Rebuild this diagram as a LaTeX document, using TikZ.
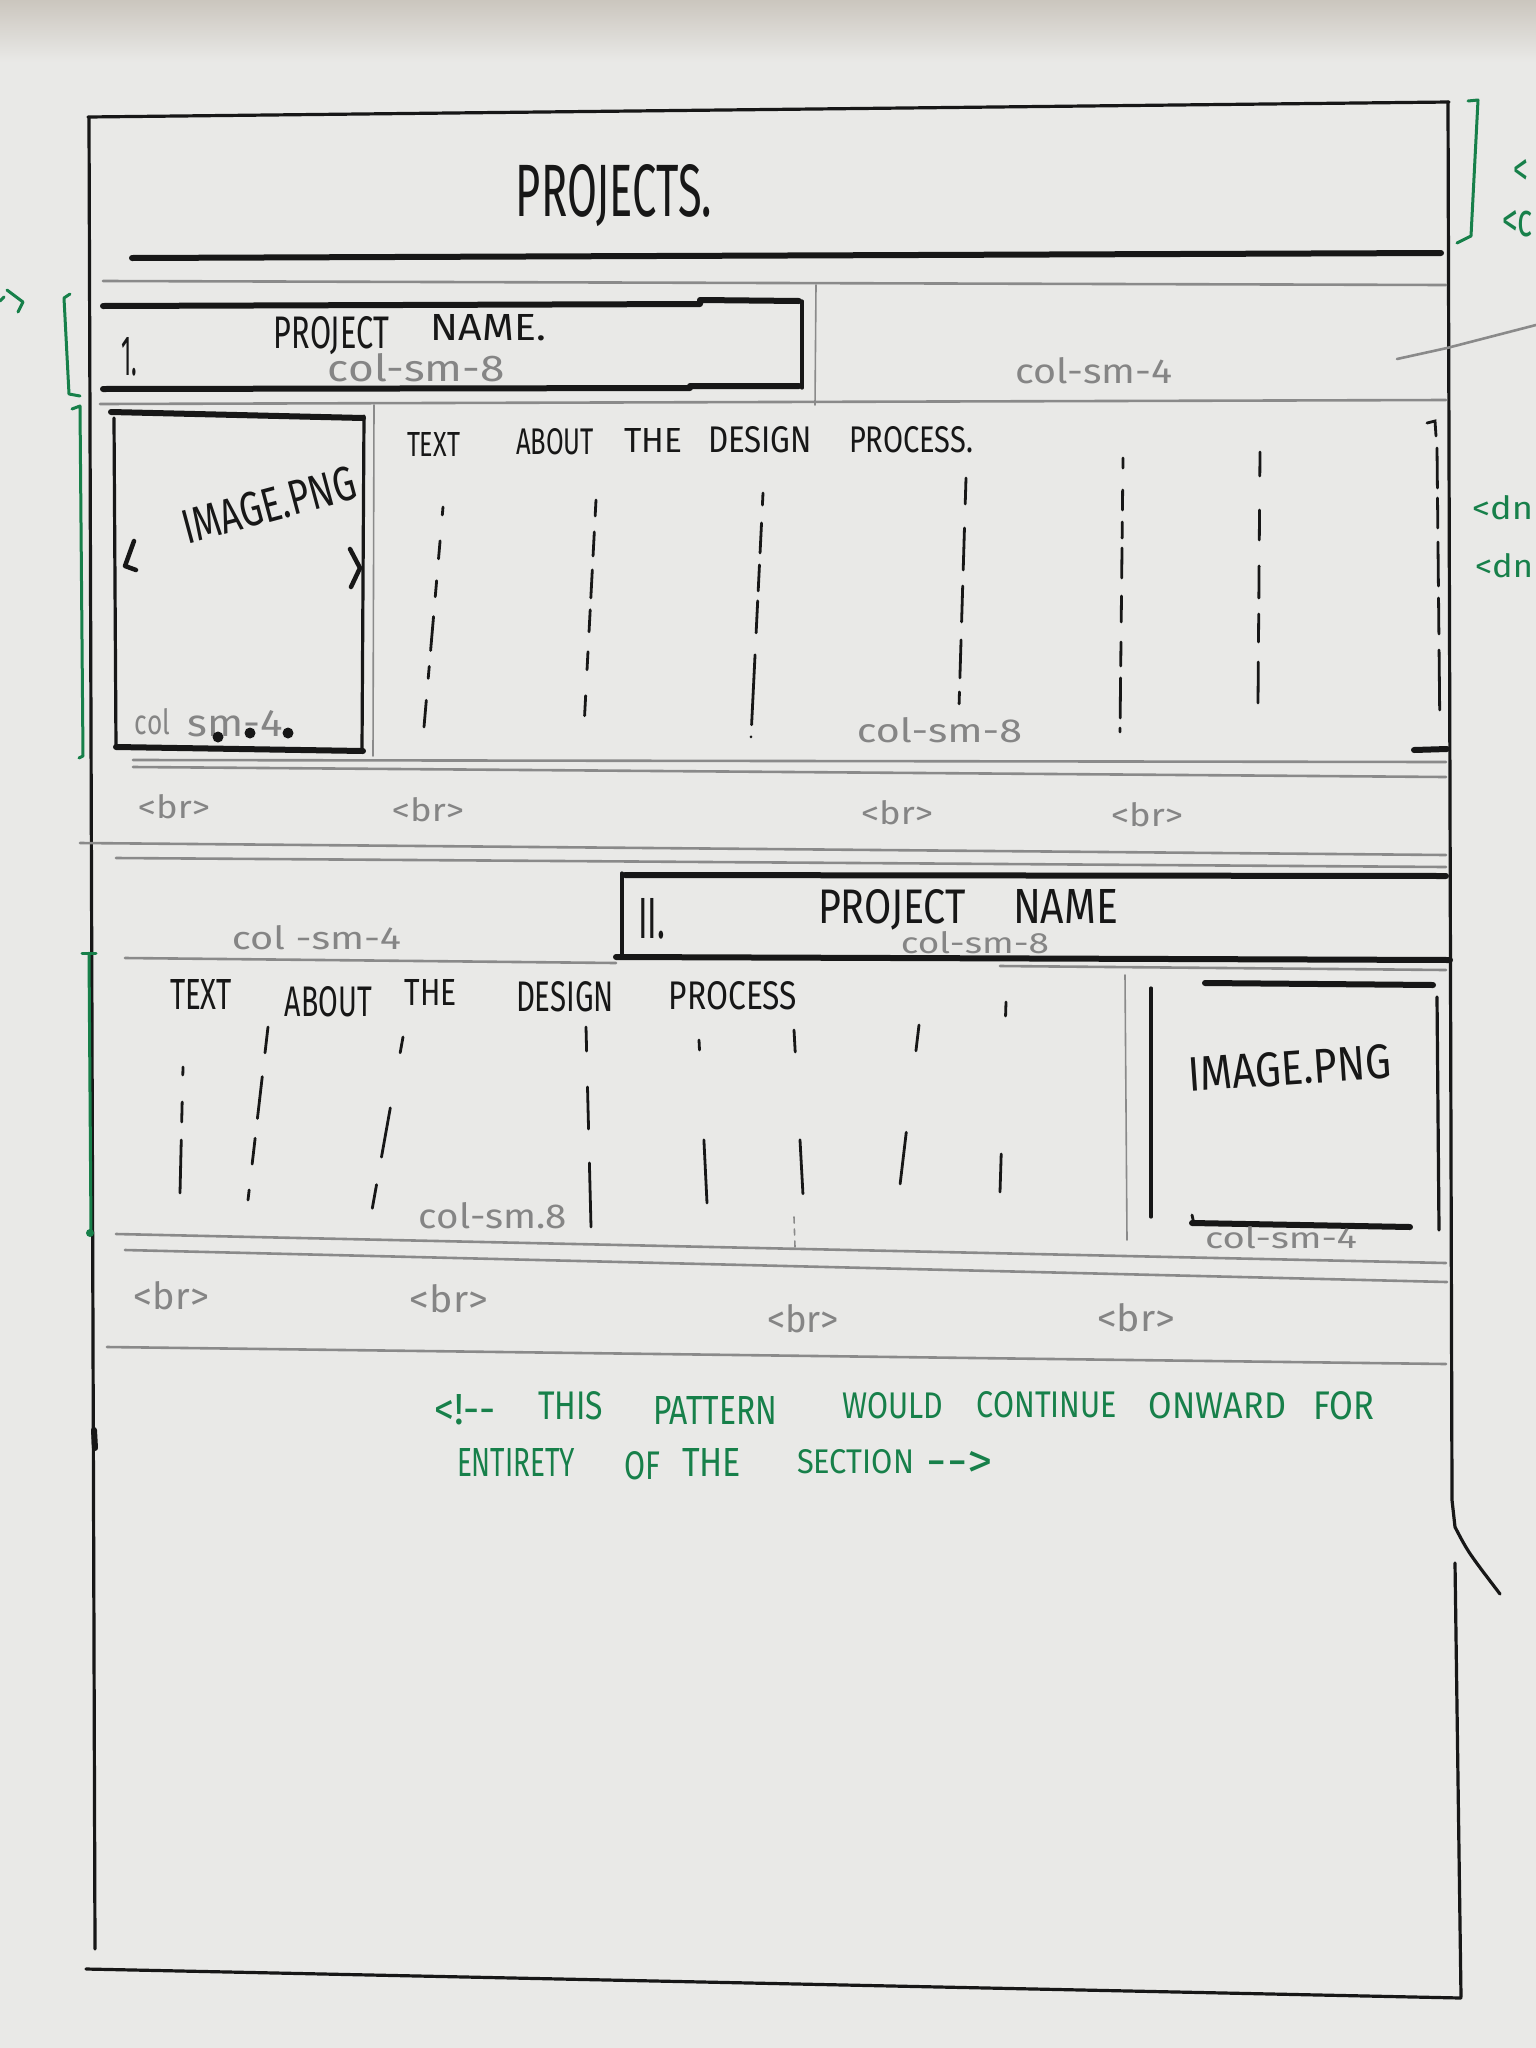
\documentclass[tikz,border=0pt]{standalone}
\usepackage{fontspec}
\setmainfont{Fira Sans}
\definecolor{paper}{HTML}{E9E9E7}
\definecolor{tablec}{HTML}{CBC6BE}
\definecolor{inkc}{HTML}{171717}
\definecolor{pencilc}{HTML}{8A8A8A}
\definecolor{pencilt}{HTML}{858585}
\definecolor{greenc}{HTML}{17804A}

% a word stretched to a given box: style, name, left x, right x, centre y, height, text
\newcommand\wrd[7]{%
  \pgfmathsetmacro\wrdx{(#3+#4)/2}%
  \pgfmathsetmacro\wrdw{#4-#3}%
  \node[#1] (#2) at (\wrdx,#5) {\resizebox{\wrdw pt}{#6pt}{#7}};}

\tikzset{
  ink/.style={draw=inkc, line width=3.2pt, line cap=round, line join=round},
  inkbold/.style={draw=inkc, line width=6pt, line cap=round, line join=round},
  inkfine/.style={draw=inkc, line width=2.8pt, line cap=round},
  pencil/.style={draw=pencilc, line width=2.6pt, line cap=round},
  pencilfine/.style={draw=pencilc, line width=1.6pt, line cap=round},
  grn/.style={draw=greenc, line width=3pt, line cap=round, line join=round},
  tblack/.style={text=inkc, inner sep=0pt},
  tgray/.style={text=pencilt, inner sep=0pt},
  tgreen/.style={text=greenc, inner sep=0pt},
}

\begin{document}
\begin{tikzpicture}[x=1pt, y=-1pt]
\useasboundingbox (0,0) rectangle (1536,2048);
\clip (0,0) rectangle (1536,2048);
% sheet of paper on the table
\fill[paper] (0,0) rectangle (1536,2048);
\shade[top color=tablec, bottom color=paper] (0,0) rectangle (1536,62);

% ---------- outer page frame ----------
\draw[ink] (89,118) -- (95,1949);
\draw[ink] (88,117) -- (1449,102);
\draw[ink] (1448,102) -- (1452,1500) -- (1455,1527) .. controls (1468,1552) .. (1500,1594);
\draw[ink] (1455,1563) -- (1461,1997);
\draw[ink] (86,1969) -- (1461,1998);
\draw[inkbold] (94,1430) -- (95,1448);

% ---------- heading ----------
\draw[inkbold] (132,258) -- (1441,253);
\wrd{tblack}{title}{516}{712}{196}{52}{PROJECTS.}

% green brackets and notes at the margins
\draw[grn] (1468,101) -- (1478,100) -- (1471,236) -- (1457,243);
\wrd{tgreen}{noteA}{1513}{1528}{172}{26}{<}
\wrd{tgreen}{noteB}{1502}{1533}{224}{26}{<c}
\wrd{tgreen}{noteC}{1472}{1533}{508}{24}{<dn}
\wrd{tgreen}{noteD}{1475}{1533}{566}{24}{<dn}
\draw[grn] (70,294) -- (64,298) -- (69,394) -- (80,396);
\draw[grn] (72,409) -- (80,406) -- (83,756) -- (79,758);
\draw[grn] (0,301) -- (4,297);
\draw[grn] (7,290) -- (23,302) -- (18,312);

% ---------- project 1 : name row ----------
\draw[pencil] (103,281) -- (1446,285);
\draw[pencilfine] (816,285) -- (815,405);
\draw[pencil] (100,404) -- (1446,400);
\draw[pencil] (1397,359) -- (1447,348) -- (1536,325);
\draw[inkbold] (103,306) -- (700,304) -- (700,300) -- (799,301);
\draw[ink] (802,301) -- (802,388);
\draw[inkbold] (103,389) -- (690,388) -- (690,386) -- (799,386);
\wrd{tblack}{numA}{121}{137}{357}{38}{1.}
\wrd{tblack}{pnA}{274}{389}{336}{32}{PROJECT}
\wrd{tblack}{pnB}{431}{546}{328}{26}{NAME.}
\wrd{tgray}{colA}{328}{505}{368}{28}{col-sm-8}
\wrd{tgray}{colB}{1015}{1172}{371}{26}{col-sm-4}

% ---------- project 1 : image and text ----------
\draw[pencilfine] (374,405) -- (373,756);
\draw[inkbold] (111,412) -- (363,418);
\draw[ink] (114,418) -- (116,748);
\draw[ink] (364,416) -- (362,750);
\draw[inkbold] (116,747) -- (363,751);
\wrd{tblack, rotate=15}{imgA}{180}{358}{505}{34}{IMAGE.PNG}
\draw[inkbold, line width=4.5pt] (134,541) -- (125,566) -- (136,570);
\draw[inkbold, line width=4.5pt] (350,549) -- (360,568) -- (351,587);
\wrd{tgray}{colC}{135}{170}{722}{26}{col}
\wrd{tgray}{colD}{188}{283}{724}{26}{sm-4}
\fill[inkc] (218,737) circle (5.5) (250,733) circle (5.5) (288,733) circle (5.5);

\wrd{tblack}{tA1}{407}{460}{444}{24}{TEXT}
\wrd{tblack}{tA2}{516}{594}{442}{26}{ABOUT}
\wrd{tblack}{tA3}{624}{682}{440}{24}{THE}
\wrd{tblack}{tA4}{708}{812}{440}{26}{DESIGN}
\wrd{tblack}{tA5}{849}{973}{440}{26}{PROCESS.}

\draw[inkfine, dash pattern=on 8pt off 26pt on 18pt off 22pt on 16pt off 20pt on 34pt off 16pt on 12pt off 22pt on 46pt] (443,507) -- (424,727);
\draw[inkfine, dash pattern=on 16pt off 16pt on 24pt off 14pt on 28pt off 12pt on 22pt off 20pt on 18pt off 26pt on 20pt] (596,500) -- (584,727);
\draw[inkfine, dash pattern=on 12pt off 18pt on 30pt off 12pt on 26pt off 10pt on 32pt off 22pt on 70pt] (763,493) -- (751,737);
\draw[inkfine, dash pattern=on 26pt off 24pt on 42pt off 16pt on 36pt off 18pt on 38pt off 14pt on 12pt] (966,478) -- (959,707);
\draw[inkfine, dash pattern=on 10pt off 22pt on 20pt off 12pt on 16pt off 10pt on 30pt off 18pt on 26pt off 20pt on 24pt off 12pt on 40pt] (1123,458) -- (1120,732);
\draw[inkfine, dash pattern=on 24pt off 34pt on 30pt off 26pt on 32pt off 16pt on 28pt off 20pt on 42pt] (1260,452) -- (1258,703);
\wrd{tgray}{colE}{857}{1022}{730}{25}{col-sm-8}
\draw[inkfine, dash pattern=on 40pt off 10pt on 30pt off 14pt on 44pt off 12pt on 36pt off 16pt on 60pt] (1437,448) -- (1440,742);
\draw[inkfine] (1427,423) -- (1435,421) -- (1436,436);
\draw[inkbold] (1414,750) -- (1447,749);

\draw[pencil] (133,760) -- (1446,762);
\draw[pencil] (133,767) -- (1446,777);
\wrd{tgray}{brA}{138}{210}{807}{24}{<br>}
\wrd{tgray}{brB}{392}{464}{810}{24}{<br>}
\wrd{tgray}{brC}{861}{933}{813}{24}{<br>}
\wrd{tgray}{brD}{1111}{1183}{815}{24}{<br>}
\draw[pencil] (80,843) -- (1446,855);
\draw[pencil] (116,858) -- (1446,867);

% ---------- project 2 : name row ----------
\draw[inkbold] (625,875) -- (1446,876);
\draw[ink] (622,873) -- (622,954);
\draw[inkbold] (616,957) -- (1450,960);
\draw[pencil] (125,958) -- (616,963);
\draw[pencil] (1000,966) -- (1446,970);
\wrd{tblack}{numB}{638}{665}{919}{40}{II.}
\wrd{tblack}{pnC}{818}{966}{910}{34}{PROJECT}
\wrd{tblack}{pnD}{1013}{1118}{906}{34}{NAME}
\wrd{tgray}{colF}{901}{1049}{943}{22}{col-sm-8}
\wrd{tgray}{colG}{232}{401}{938}{24}{col -sm-4}

% ---------- project 2 : text and image ----------
\draw[grn] (82,953) -- (96,953);
\draw[grn] (89,953) -- (91,1231);
\fill[greenc] (90,1233) circle (4);

\wrd{tblack}{tB1}{170}{232}{994}{30}{TEXT}
\wrd{tblack}{tB2}{285}{372}{1002}{30}{ABOUT}
\wrd{tblack}{tB3}{405}{457}{992}{26}{THE}
\wrd{tblack}{tB4}{516}{614}{997}{30}{DESIGN}
\wrd{tblack}{tB5}{669}{797}{996}{28}{PROCESS}

\draw[inkfine, dash pattern=on 8pt off 27pt on 20pt off 18pt on 53pt] (183,1067) -- (180,1193);
\draw[inkfine, dash pattern=on 26pt off 24pt on 42pt off 20pt on 26pt] (268,1027) -- (248,1200);
\draw[inkfine, dash pattern=on 16pt off 56pt on 50pt off 28pt on 24pt] (403,1037) -- (372,1210);
\draw[inkfine, dash pattern=on 24pt off 36pt on 42pt off 34pt on 66pt] (586,1027) -- (591,1227);
\draw[inkfine, dash pattern=on 10pt off 90pt on 64pt] (699,1040) -- (707,1203);
\draw[inkfine, dash pattern=on 22pt off 88pt on 54pt] (794,1030) -- (803,1195);
\draw[inkfine, dash pattern=on 26pt off 82pt on 52pt] (919,1025) -- (900,1185);
\draw[inkfine, dash pattern=on 14pt off 138pt on 38pt] (1006,1002) -- (1000,1192);
\draw[pencilfine, dash pattern=on 6pt off 6pt] (794,1217) -- (795,1247);
\wrd{tgray}{colH}{419}{567}{1216}{26}{col-sm.8}

\draw[pencilfine] (1125,975) -- (1127,1240);
\draw[ink] (1151,988) -- (1151,1217);
\draw[inkbold] (1205,983) -- (1433,985);
\draw[ink] (1437,997) -- (1439,1230);
\draw[inkbold] (1192,1223) -- (1410,1227);
\draw[inkfine] (1192,1215) -- (1194,1224);
\wrd{tblack, rotate=4}{imgB}{1188}{1391}{1068}{34}{IMAGE.PNG}
\wrd{tgray}{colI}{1205}{1357}{1238}{22}{col-sm-4}

\draw[pencil] (116,1234) -- (1446,1263);
\draw[pencil] (125,1250) -- (1447,1282);
\wrd{tgray}{brE}{134}{209}{1296}{28}{<br>}
\wrd{tgray}{brF}{410}{488}{1299}{28}{<br>}
\wrd{tgray}{brG}{767}{839}{1319}{28}{<br>}
\wrd{tgray}{brH}{1097}{1175}{1318}{28}{<br>}
\draw[pencil] (107,1347) -- (1446,1364);

% ---------- closing remark ----------
\wrd{tgreen}{gA}{434}{496}{1410}{30}{<!{-}{-}}
\wrd{tgreen}{gB}{538}{603}{1406}{28}{THIS}
\wrd{tgreen}{gC}{653}{777}{1410}{28}{PATTERN}
\wrd{tgreen}{gD}{842}{943}{1406}{26}{WOULD}
\wrd{tgreen}{gE}{977}{1117}{1405}{26}{CONTINUE}
\wrd{tgreen}{gF}{1149}{1286}{1406}{26}{ONWARD}
\wrd{tgreen}{gG}{1313}{1374}{1406}{28}{FOR}
\wrd{tgreen}{gH}{457}{575}{1462}{28}{ENTIRETY}
\wrd{tgreen}{gI}{624}{660}{1466}{28}{OF}
\wrd{tgreen}{gJ}{682}{741}{1462}{28}{THE}
\wrd{tgreen}{gK}{797}{914}{1462}{24}{SECTION}
\wrd{tgreen}{gL}{927}{993}{1464}{26}{{-}{-}>}
\end{tikzpicture}
\end{document}
